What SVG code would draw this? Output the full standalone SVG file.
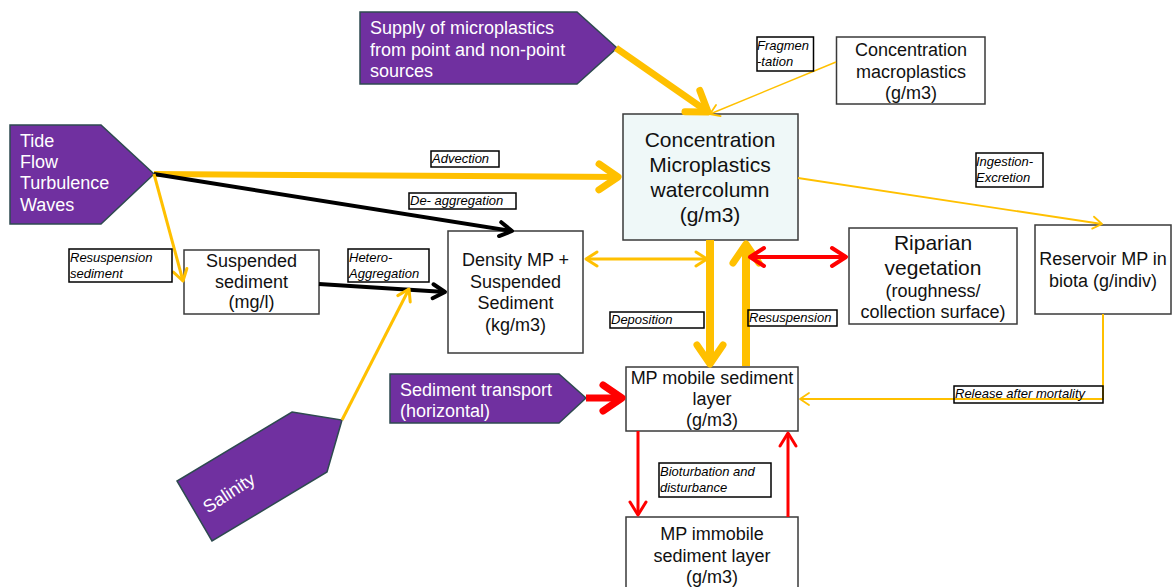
<svg xmlns="http://www.w3.org/2000/svg" width="1172" height="587" viewBox="0 0 1172 587">
<style>
  .box{fill:#fff;stroke:#3a3a3a;stroke-width:1.5}
  .src{fill:#7030A0;stroke:#2E4A50;stroke-width:1.5}
  .t{font-family:"Liberation Sans",Arial,sans-serif;font-size:18px;fill:#111;text-anchor:middle}
  .tb{font-family:"Liberation Sans",Arial,sans-serif;font-size:21px;fill:#111;text-anchor:middle}
  .tw{font-family:"Liberation Sans",Arial,sans-serif;font-size:18px;fill:#fff}
  .lbl{fill:none;stroke:#000;stroke-width:1.5}
  .lt{font-family:"Liberation Sans",Arial,sans-serif;font-size:13px;font-style:italic;fill:#000}
  .c{fill:none;stroke-linecap:butt}
  .o{stroke:#FFC000}
  .r{stroke:#FF0000}
  .k{stroke:#000}
</style>
<defs>
  <marker id="oBig" markerUnits="userSpaceOnUse" orient="auto-start-reverse" overflow="visible" markerWidth="1" markerHeight="1" refX="0" refY="0"><path d="M-19,-13 L0,0 L-19,13" fill="none" stroke="#FFC000" stroke-width="7" stroke-linecap="round" stroke-linejoin="round"/></marker>
  <marker id="oMed" markerUnits="userSpaceOnUse" orient="auto-start-reverse" overflow="visible" markerWidth="1" markerHeight="1" refX="0" refY="0"><path d="M-11,-7 L0,0 L-11,7" fill="none" stroke="#FFC000" stroke-width="3" stroke-linecap="round" stroke-linejoin="round"/></marker>
  <marker id="oSm" markerUnits="userSpaceOnUse" orient="auto-start-reverse" overflow="visible" markerWidth="1" markerHeight="1" refX="0" refY="0"><path d="M-9,-6 L0,0 L-9,6" fill="none" stroke="#FFC000" stroke-width="1.8" stroke-linecap="round" stroke-linejoin="round"/></marker>
  <marker id="kMed" markerUnits="userSpaceOnUse" orient="auto-start-reverse" overflow="visible" markerWidth="1" markerHeight="1" refX="0" refY="0"><path d="M-12,-7 L0,0 L-12,7" fill="none" stroke="#000" stroke-width="4" stroke-linecap="round" stroke-linejoin="round"/></marker>
  <marker id="rBig" markerUnits="userSpaceOnUse" orient="auto-start-reverse" overflow="visible" markerWidth="1" markerHeight="1" refX="0" refY="0"><path d="M-19,-13 L0,0 L-19,13" fill="none" stroke="#FF0000" stroke-width="7" stroke-linecap="round" stroke-linejoin="round"/></marker>
  <marker id="rMed" markerUnits="userSpaceOnUse" orient="auto-start-reverse" overflow="visible" markerWidth="1" markerHeight="1" refX="0" refY="0"><path d="M-14,-9 L0,0 L-14,9" fill="none" stroke="#FF0000" stroke-width="4" stroke-linecap="round" stroke-linejoin="round"/></marker>
  <marker id="rSm" markerUnits="userSpaceOnUse" orient="auto-start-reverse" overflow="visible" markerWidth="1" markerHeight="1" refX="0" refY="0"><path d="M-13,-8 L0,0 L-13,8" fill="none" stroke="#FF0000" stroke-width="3" stroke-linecap="round" stroke-linejoin="round"/></marker>
</defs>
<rect width="1172" height="587" fill="#fff"/>

<g id="supply">
  <polygon class="src" points="360,12 577,12 617,48 577,84 360,84"/>
  <text class="tw" x="370" y="34">Supply of microplastics</text>
  <text class="tw" x="370" y="56">from point and non-point</text>
  <text class="tw" x="370" y="77">sources</text>
</g>
<g id="tide">
  <polygon class="src" points="10,125 101,125 154,174 101,224 10,224"/>
  <text class="tw" x="20" y="147">Tide</text>
  <text class="tw" x="20" y="168">Flow</text>
  <text class="tw" x="20" y="189">Turbulence</text>
  <text class="tw" x="20" y="211">Waves</text>
</g>
<g id="salinity">
  <polygon class="src" points="292,412 342,420 327,472 212,541 177,481"/>
  <text class="tw" x="229" y="499" text-anchor="middle" transform="rotate(-33 229 493)">Salinity</text>
</g>
<g id="sedtransport">
  <polygon class="src" points="390,374 559,374 586,398 559,423 390,423"/>
  <text class="tw" x="400" y="396">Sediment transport</text>
  <text class="tw" x="400" y="417">(horizontal)</text>
</g>
<g id="macro">
  <rect class="box" x="836.5" y="37" width="148.5" height="67"/>
  <text class="t" x="911" y="56">Concentration</text>
  <text class="t" x="911" y="78">macroplastics</text>
  <text class="t" x="911" y="99">(g/m3)</text>
</g>
<g id="watercolumn">
  <rect x="623" y="114" width="175" height="126" fill="#EFF8F8" stroke="#3a3a3a" stroke-width="1.5"/>
  <text class="tb" x="710" y="147">Concentration</text>
  <text class="tb" x="710" y="172">Microplastics</text>
  <text class="tb" x="710" y="197">watercolumn</text>
  <text class="tb" x="710" y="222">(g/m3)</text>
</g>
<g id="suspended">
  <rect class="box" x="184" y="250" width="135" height="64"/>
  <text class="t" x="251.5" y="267">Suspended</text>
  <text class="t" x="251.5" y="288">sediment</text>
  <text class="t" x="251.5" y="308">(mg/l)</text>
</g>
<g id="density">
  <rect class="box" x="448" y="231" width="135" height="122"/>
  <text class="t" x="515.5" y="266">Density MP +</text>
  <text class="t" x="515.5" y="288">Suspended</text>
  <text class="t" x="515.5" y="309">Sediment</text>
  <text class="t" x="515.5" y="331">(kg/m3)</text>
</g>
<g id="riparian">
  <rect class="box" x="849" y="228" width="168" height="96"/>
  <text class="tb" x="933" y="250">Riparian</text>
  <text class="tb" x="933" y="275">vegetation</text>
  <text class="t" x="933" y="297">(roughness/</text>
  <text class="t" x="933" y="318">collection surface)</text>
</g>
<g id="biota">
  <rect class="box" x="1035" y="225" width="136" height="89"/>
  <text class="t" x="1103" y="265">Reservoir MP in</text>
  <text class="t" x="1103" y="287">biota (g/indiv)</text>
</g>
<g id="mobile">
  <rect class="box" x="626" y="367" width="172" height="64"/>
  <text class="t" x="712" y="384">MP mobile sediment</text>
  <text class="t" x="712" y="405">layer</text>
  <text class="t" x="712" y="426">(g/m3)</text>
</g>
<g id="immobile">
  <rect class="box" x="626" y="517" width="172" height="75"/>
  <text class="t" x="712" y="540">MP immobile</text>
  <text class="t" x="712" y="562">sediment layer</text>
  <text class="t" x="712" y="583">(g/m3)</text>
</g>

<g id="connectors">
  <line class="c o" x1="616" y1="48" x2="708" y2="112" stroke-width="7" marker-end="url(#oBig)"/>
  <line class="c o" x1="154" y1="174" x2="618" y2="177" stroke-width="6" marker-end="url(#oBig)"/>
  <line class="c k" x1="154" y1="174" x2="512" y2="231" stroke-width="4" marker-end="url(#kMed)"/>
  <line class="c o" x1="154" y1="174" x2="183" y2="281" stroke-width="3" marker-end="url(#oMed)"/>
  <line class="c k" x1="319" y1="284" x2="445" y2="292" stroke-width="4" marker-end="url(#kMed)"/>
  <line class="c o" x1="342" y1="420" x2="409" y2="289" stroke-width="3" marker-end="url(#oMed)"/>
  <line class="c o" x1="836" y1="62" x2="710" y2="114" stroke-width="1.5" marker-end="url(#oSm)"/>
  <line class="c o" x1="798" y1="178" x2="1102" y2="224" stroke-width="1.8" marker-end="url(#oSm)"/>
  <line class="c o" x1="586" y1="259" x2="707" y2="259" stroke-width="3" marker-start="url(#oMed)" marker-end="url(#oMed)"/>
  <line class="c o" x1="710" y1="240" x2="710" y2="364" stroke-width="8" marker-end="url(#oBig)"/>
  <line class="c o" x1="746" y1="366" x2="746" y2="244" stroke-width="8" marker-end="url(#oBig)"/>
  <line class="c r" x1="750" y1="257" x2="846" y2="257" stroke-width="4" marker-start="url(#rMed)" marker-end="url(#rMed)"/>
  <line class="c r" x1="586" y1="398" x2="622" y2="398" stroke-width="7" marker-end="url(#rBig)"/>
  <polyline class="c o" points="1103,314 1103,399 800,399" stroke-width="2" marker-end="url(#oSm)"/>
  <line class="c r" x1="638" y1="431" x2="638" y2="515" stroke-width="3" marker-end="url(#rSm)"/>
  <line class="c r" x1="788" y1="517" x2="788" y2="433" stroke-width="3" marker-end="url(#rSm)"/>

  <g id="labels">
    <rect class="lbl" x="431" y="151" width="68" height="16"/>
    <text class="lt" x="432" y="163">Advection</text>
    <rect class="lbl" x="409" y="193" width="107" height="16"/>
    <text class="lt" x="410" y="205">De- aggregation</text>
    <rect class="lbl" x="69" y="249" width="103" height="33"/>
    <text class="lt" x="70" y="262">Resuspension</text>
    <text class="lt" x="70" y="278">sediment</text>
    <rect class="lbl" x="348" y="249" width="81" height="33"/>
    <text class="lt" x="349" y="262">Hetero-</text>
    <text class="lt" x="349" y="278">Aggregation</text>
    <rect class="lbl" x="757" y="37" width="56.5" height="34"/>
    <text class="lt" x="757" y="50">Fragmen</text>
    <text class="lt" x="757" y="66">-tation</text>
    <rect class="lbl" x="976" y="153" width="67" height="34"/>
    <text class="lt" x="976" y="166">Ingestion-</text>
    <text class="lt" x="976" y="182">Excretion</text>
    <rect class="lbl" x="610" y="312" width="94" height="16"/>
    <text class="lt" x="611" y="324">Deposition</text>
    <rect class="lbl" x="748" y="310" width="89" height="16"/>
    <text class="lt" x="749" y="322">Resuspension</text>
    <rect class="lbl" x="954" y="386" width="149" height="17"/>
    <text class="lt" x="955" y="398">Release after mortality</text>
    <rect class="lbl" x="659" y="463" width="112" height="34"/>
    <text class="lt" x="660" y="476">Bioturbation and</text>
    <text class="lt" x="660" y="492">disturbance</text>
  </g>
</g>
</svg>
